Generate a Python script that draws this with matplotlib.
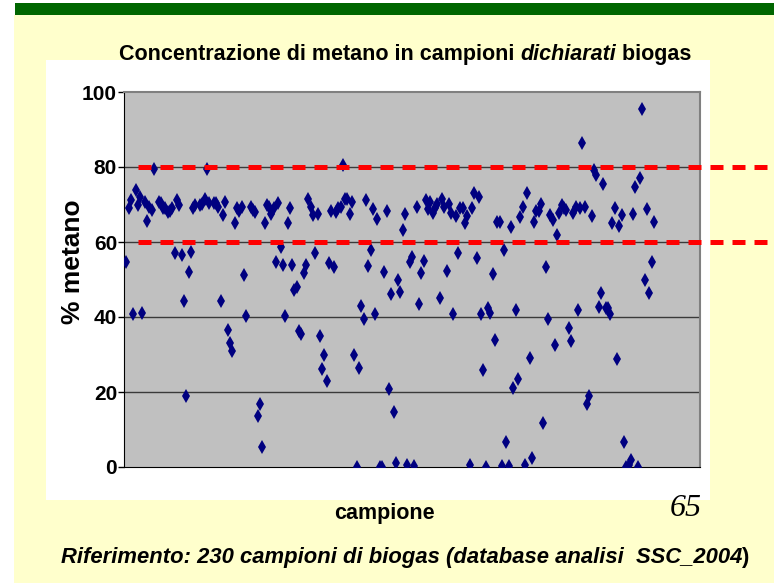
import matplotlib
matplotlib.use("Agg")
import matplotlib.pyplot as plt
from matplotlib.patches import Rectangle

# campione number and % methane
campione = [1, 2, 3, 4, 5, 6, 7, 8, 9, 10, 11, 12, 13, 15, 16, 17, 18, 19, 20, 21,
            22, 23, 24, 25, 26, 27, 28, 29, 30, 31, 33, 34, 35, 36, 37, 39, 40, 41, 42, 43,
            44, 45, 46, 47, 48, 49, 50, 51, 52, 53, 55, 56, 57, 58, 59, 60, 61, 62, 63, 64,
            65, 66, 67, 68, 69, 70, 71, 72, 73, 74, 75, 76, 77, 78, 79, 80, 81, 82, 83, 84,
            85, 86, 87, 88, 89, 90, 91, 92, 93, 94, 95, 96, 97, 98, 99, 100, 101, 102, 103, 104,
            105, 106, 107, 108, 109, 110, 111, 112, 113, 114, 115, 116, 117, 118, 119, 120, 121, 122, 123, 124,
            125, 126, 127, 128, 129, 130, 131, 132, 133, 134, 135, 136, 137, 138, 139, 140, 141, 142, 143, 144,
            145, 146, 147, 148, 149, 150, 151, 152, 153, 154, 155, 156, 157, 158, 159, 160, 161, 162, 163, 164,
            165, 166, 167, 168, 169, 170, 171, 172, 173, 174, 175, 176, 177, 178, 179, 180, 181, 182, 183, 184,
            185, 186, 187, 188, 189, 190, 191, 192, 193, 194, 195, 196, 197, 198, 199, 200, 201, 202, 203, 204,
            205, 206, 207, 208, 209, 210, 211, 212, 213, 214, 215, 216, 217, 218, 219, 220, 221, 222, 223, 224,
            225, 226, 227, 228, 229, 230]
metano = [54.7, 69.0, 71.2, 40.8, 73.9, 69.9, 71.9, 41.2, 70.8, 65.7, 69.4, 68.5, 79.6, 70.7, 70.3, 69.2, 69.0, 68.1, 68.4, 69.2,
          57.0, 71.2, 69.9, 56.5, 44.3, 19.0, 52.1, 57.4, 69.2, 69.9, 69.9, 70.1, 71.6, 79.6, 70.3, 70.3, 70.3, 69.4, 44.3, 67.2,
          70.8, 36.5, 33.0, 31.0, 65.0, 69.2, 68.4, 69.4, 51.2, 40.4, 69.4, 68.5, 68.1, 13.7, 16.8, 5.4, 65.0, 69.9, 69.4, 67.5,
          69.2, 54.7, 70.5, 58.6, 54.0, 40.4, 65.0, 69.0, 54.0, 47.2, 47.9, 36.3, 35.5, 51.8, 54.0, 71.5, 69.4, 67.2, 57.0, 67.5,
          35.0, 26.1, 30.0, 23.0, 54.5, 68.4, 53.4, 68.1, 69.0, 69.4, 80.5, 71.6, 71.6, 67.5, 70.7, 30.0, 0.0, 26.5, 42.9, 39.6,
          71.2, 53.7, 57.9, 68.7, 40.8, 66.1, 0.0, 0.0, 52.1, 68.4, 20.8, 46.1, 14.8, 1.0, 50.0, 46.8, 63.2, 67.5, 0.5, 54.7,
          56.1, 0.3, 69.4, 43.6, 51.8, 55.0, 71.2, 68.7, 70.8, 67.8, 69.0, 70.1, 45.2, 71.4, 69.4, 52.3, 70.1, 67.8, 40.8, 66.9,
          57.2, 69.0, 69.0, 65.0, 66.9, 0.5, 69.0, 73.0, 55.8, 72.1, 40.8, 25.9, 0.0, 42.3, 41.1, 51.5, 34.0, 65.4, 65.4, 0.3,
          57.9, 6.6, 0.3, 64.1, 21.2, 41.9, 23.4, 66.8, 69.4, 0.5, 73.2, 29.0, 2.3, 65.4, 68.4, 68.4, 70.1, 11.8, 53.4, 39.6,
          67.2, 66.0, 32.5, 61.9, 67.8, 69.9, 69.0, 68.5, 37.2, 33.7, 67.8, 69.4, 41.9, 69.0, 86.5, 69.4, 16.8, 19.0, 66.9, 79.2,
          77.8, 42.6, 46.5, 75.6, 42.3, 42.3, 40.8, 65.0, 69.0, 28.7, 64.3, 67.2, 6.8, 0.0, 0.5, 2.0, 67.5, 74.6, 0.0, 77.2,
          95.4, 50.0, 68.7, 46.5, 54.7, 65.4]
soglie = [60, 80]
yticks = [0, 20, 40, 60, 80, 100]

W, H = 774, 583
sans = ["Liberation Sans", "DejaVu Sans"]


def fx(x):
    return x / W


def fy(y):
    return 1 - y / H


def centred_line(fig, renderer, parts, xc, y, size):
    # lay out pieces of one line side by side, centred on xc (pixels)
    texts = []
    total = 0
    for s, st in parts:
        t = fig.text(0, fy(y), s, family=sans, fontweight="bold", style=st,
                     fontsize=size, va="baseline", ha="left")
        w = t.get_window_extent(renderer).width
        texts.append((t, w))
        total += w
    x0 = xc - total / 2
    for t, w in texts:
        t.set_x(fx(x0))
        x0 += w


def main():
    fig = plt.figure(figsize=(W / 100, H / 100), dpi=100)
    fig.patch.set_facecolor("white")

    # slide background
    fig.add_artist(Rectangle((fx(14), 0), 1, fy(15), transform=fig.transFigure,
                             facecolor="#FFFFCC", edgecolor="none", zorder=0))
    fig.add_artist(Rectangle((fx(15), fy(15)), 1, 12 / H, transform=fig.transFigure,
                             facecolor="#006600", edgecolor="none", zorder=0))
    fig.add_artist(Rectangle((fx(46), fy(500)), 664 / W, 440 / H, transform=fig.transFigure,
                             facecolor="white", edgecolor="none", zorder=0))

    ax = fig.add_axes([fx(124), fy(467), 576 / W, 375 / H])
    ax.set_facecolor("#C0C0C0")
    ax.set_xlim(0, 250)
    ax.set_ylim(0, 100)
    ax.set_xticks([])
    ax.set_yticks(yticks)
    ax.set_yticklabels([str(t) for t in yticks], family=sans, fontweight="bold", fontsize=15)
    ax.tick_params(axis="y", direction="out", length=4, width=1, pad=1)
    for v in yticks[1:-1]:
        ax.axhline(v, color="#3a3a3a", lw=1, zorder=1)
    ax.spines["left"].set_color("black")
    ax.spines["bottom"].set_color("black")
    ax.spines["top"].set_color("#808080")
    ax.spines["right"].set_color("#808080")
    ax.spines["top"].set_linewidth(1.5)
    ax.spines["right"].set_linewidth(1.5)

    ax.plot(campione, metano, linestyle="none", marker="d", markersize=7.5,
            color="#000080", markeredgewidth=0, zorder=3)

    # red threshold lines drawn across the slide
    for s in soglie:
        ax.axhline(s, xmin=14 / 576, xmax=644 / 576, color="red", lw=3.6,
                   dashes=(2.6, 1.8), clip_on=False, zorder=5)

    fig.text(fx(73), fy(262), "% metano", family=sans, fontweight="bold", fontsize=19,
             rotation=90, ha="center", va="center")
    fig.text(fx(384), fy(513), "campione", family=sans, fontweight="bold",
             fontsize=15.5, ha="center", va="center")
    fig.text(fx(686), fy(508), "65", family="Liberation Serif", style="italic",
             fontsize=23, ha="center", va="center")

    renderer = fig.canvas.get_renderer()
    centred_line(fig, renderer,
                 [("Concentrazione di metano in campioni ", "normal"),
                  ("dichiarati", "italic"), (" biogas", "normal")],
                 405, 60, 15.5)
    centred_line(fig, renderer,
                 [("Riferimento: 230 campioni di biogas (database analisi  SSC_2004", "italic"),
                  (")", "normal")],
                 405, 563, 15.8)

    fig.savefig("out.png", dpi=100)


if __name__ == "__main__":
    main()
